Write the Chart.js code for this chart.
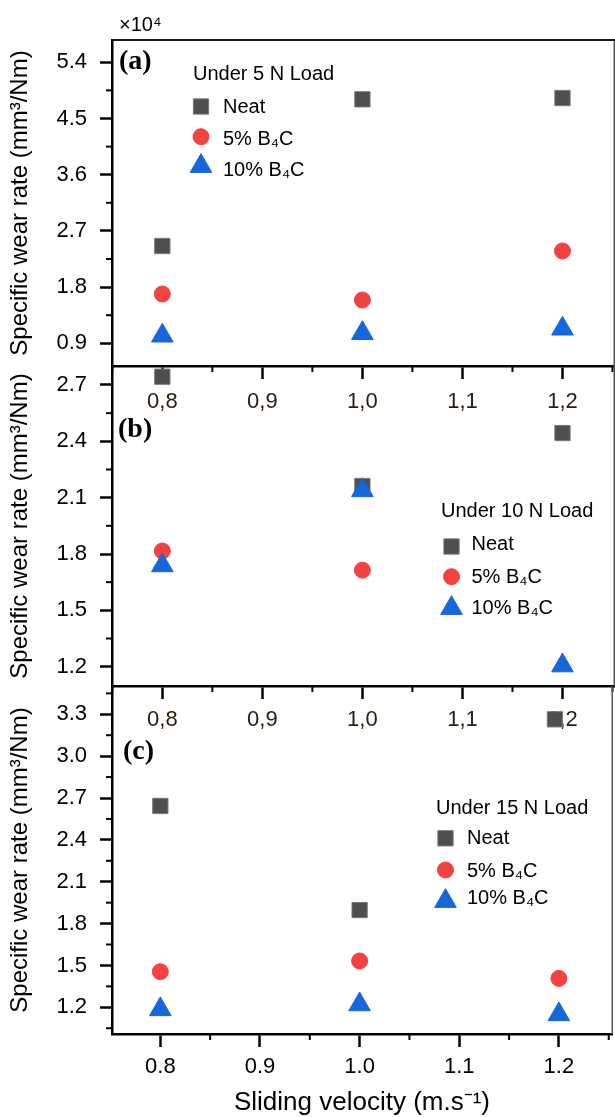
<!DOCTYPE html>
<html><head><meta charset="utf-8">
<script src="https://cdn.jsdelivr.net/npm/chart.js@4.4.1/dist/chart.umd.min.js"></script>
<style>
html,body{margin:0;padding:0;background:#fff;}
#wrap{position:relative;width:615px;height:1117px;overflow:hidden;background:#fff;}
#wrap canvas{position:absolute;left:0;top:0;}
</style></head><body>
<div id="wrap">
<canvas id="cA" width="615" height="1117"></canvas>
<canvas id="cB" width="615" height="1117"></canvas>
<canvas id="cC" width="615" height="1117"></canvas>
</div>
<script>
// ---------- data ----------
const velocities = [0.8, 1.0, 1.2];
const velocitiesNeat15N = [0.8, 1.0, 1.196];
const seriesNames = ['Neat', '5% B\u2084C', '10% B\u2084C'];
const loadTitles = ['Under 5 N Load', 'Under 10 N Load', 'Under 15 N Load'];
const panelLetters = ['(a)', '(b)', '(c)'];

// 5 N load (values x10^4)
const neat5N = [2.458, 4.807, 4.828];
const b4c5pct5N = [1.689, 1.593, 2.378];
const b4c10pct5N = [1.021, 1.061, 1.133];
// 10 N load
const neat10N = [2.744, 2.162, 2.444];
const b4c5pct10N = [1.816, 1.714, null];
const b4c10pct10N = [1.739, 2.139, 1.206];
// 15 N load
const neat15N = [2.643, 1.897, 3.264];
const b4c5pct15N = [1.455, 1.532, 1.407];
const b4c10pct15N = [1.185, 1.220, 1.149];

// tick labels
const xTicks = [0.8, 0.9, 1.0, 1.1, 1.2];
const yTicks5N = [0.9, 1.8, 2.7, 3.6, 4.5, 5.4];
const yTicks10N = [1.2, 1.5, 1.8, 2.1, 2.4, 2.7];
const yTicks15N = [1.2, 1.5, 1.8, 2.1, 2.4, 2.7, 3.0, 3.3];
const yAxisTitle = 'Specific wear rate (mm\u00B3/Nm)';
const xAxisTitle = 'Sliding velocity (m.s\u207B\u00B9)';
const exponentLabel = '\u00D710\u2074';

// ---------- styling ----------
const SANS = 'Arial, "Liberation Sans", Helvetica, sans-serif';
const SERIF = '"Liberation Serif", "Times New Roman", Times, serif';
const STY = [
  {style: 'rect', r: 10.8, fill: '#4e4e4e', stroke: '#777777', order: 3},
  {style: 'circle', r: 8.0, fill: '#f24242', stroke: '#f24242', order: 2},
  {style: 'triangle', r: 12.5, fill: '#1667db', stroke: '#1667db', order: 1}
];
Chart.defaults.font.family = SANS;
Chart.defaults.color = '#000';

function pts(xs, ys) {
  const out = [];
  xs.forEach((x, i) => { if (ys[i] !== null && ys[i] !== undefined) out.push({x: x, y: ys[i]}); });
  return out;
}

function minorValues(ticks, min, max) {
  const step = ticks[1] - ticks[0];
  const out = [];
  for (let i = -1; i < ticks.length; i++) {
    const v = ticks[0] + step * (i + 0.5);
    if (v >= min - 1e-9 && v <= max + 1e-9) out.push(v);
  }
  return out;
}

function drawMarker(ctx, s, x, cy) {
  ctx.fillStyle = s.fill; ctx.strokeStyle = s.stroke; ctx.lineWidth = 1;
  ctx.beginPath();
  if (s.style === 'rect') {
    const h = s.r * Math.SQRT1_2;
    ctx.rect(x - h, cy - h, 2 * h, 2 * h);
  } else if (s.style === 'circle') {
    ctx.arc(x, cy, s.r, 0, Math.PI * 2);
  } else {
    const c = cy + s.r / 4; // circumcenter so that bbox is centred on cy
    ctx.moveTo(x, c - s.r);
    ctx.lineTo(x + s.r * Math.sin(2 * Math.PI / 3), c + s.r / 2);
    ctx.lineTo(x - s.r * Math.sin(2 * Math.PI / 3), c + s.r / 2);
    ctx.closePath();
  }
  ctx.fill(); ctx.stroke();
}

const decorPlugin = {
  id: 'panelDecor',
  afterDraw(chart, args, o) {
    const ctx = chart.ctx, ca = chart.chartArea;
    const xs = chart.scales.x, ys = chart.scales.y;
    ctx.save();
    // right frame line
    ctx.strokeStyle = '#555'; ctx.lineWidth = 1.5;
    ctx.beginPath(); ctx.moveTo(ca.right + 0.25, ca.top); ctx.lineTo(ca.right + 0.25, ca.bottom); ctx.stroke();
    if (o.topLine) {
      ctx.strokeStyle = '#1a1a1a'; ctx.lineWidth = 2;
      ctx.beginPath(); ctx.moveTo(ca.left, ca.top); ctx.lineTo(ca.right + 1, ca.top); ctx.stroke();
    }
    // minor ticks
    ctx.strokeStyle = '#000'; ctx.lineWidth = 2;
    minorValues(o.yTicks, ys.min, ys.max).forEach(v => {
      const p = ys.getPixelForValue(v);
      ctx.beginPath(); ctx.moveTo(ca.left - 6, p); ctx.lineTo(ca.left, p); ctx.stroke();
    });
    minorValues(xTicks, xs.min, xs.max).forEach(v => {
      const p = xs.getPixelForValue(v);
      ctx.beginPath(); ctx.moveTo(p, ca.bottom); ctx.lineTo(p, ca.bottom + 6); ctx.stroke();
    });
    // panel letter
    ctx.fillStyle = '#000';
    ctx.font = 'bold 28px ' + SERIF;
    ctx.textBaseline = 'middle'; ctx.textAlign = 'left';
    ctx.fillText(o.letter, o.letterX, o.letterY);
    // exponent
    if (o.exponent) {
      ctx.font = '20px ' + SANS;
      ctx.fillText(o.exponent, o.expX, o.expY);
    }
    // legend
    const L = o.legend;
    ctx.font = '20px ' + SANS;
    ctx.fillStyle = '#000';
    ctx.fillText(o.title, L.titleX, L.titleY);
    chart.data.datasets.forEach((ds, i) => {
      const s = STY[i];
      drawMarker(ctx, s, L.markerX, L.rows[i][0]);
      ctx.fillStyle = '#000';
      ctx.font = '20px ' + SANS;
      ctx.fillText(ds.label, L.textX, L.rows[i][1]);
    });
    ctx.restore();
  }
};

function makePanel(id, cfg) {
  const datasets = cfg.series.map((ys, i) => ({
    label: seriesNames[i],
    data: pts(i === 0 && cfg.xsNeat ? cfg.xsNeat : velocities, ys),
    pointStyle: STY[i].style,
    pointRadius: STY[i].r,
    pointHoverRadius: STY[i].r,
    backgroundColor: STY[i].fill,
    borderColor: STY[i].stroke,
    borderWidth: 1,
    showLine: false,
    order: STY[i].order,
    clip: false
  }));
  return new Chart(document.getElementById(id), {
    type: 'scatter',
    data: {datasets},
    options: {
      responsive: false, animation: false, devicePixelRatio: 1, events: [],
      layout: {autoPadding: false, padding: {top: cfg.padTop, bottom: cfg.padBottom, left: 0, right: cfg.padRight}},
      plugins: {
        legend: {display: false}, tooltip: {enabled: false},
        panelDecor: cfg.decor
      },
      scales: {
        x: {
          type: 'linear', min: cfg.xMin, max: cfg.xMax,
          afterBuildTicks: s => { s.ticks = xTicks.map(v => ({value: v})); },
          afterFit: s => { s.height = cfg.xHeight; s.paddingLeft = 0; s.paddingRight = 0; },
          ticks: {
            padding: cfg.xLabelPad, color: cfg.xLabelColor, maxRotation: 0, autoSkip: false,
            font: {size: 22, family: SANS},
            callback: v => cfg.comma ? v.toFixed(1).replace('.', ',') : v.toFixed(1)
          },
          grid: {drawOnChartArea: false, drawTicks: true, tickLength: 13, tickWidth: 2.5, tickColor: '#000'},
          border: {display: true, width: 2.5, color: '#000'},
          title: cfg.xTitle ? {display: true, text: cfg.xTitle, color: '#000',
            font: {size: 26, family: SANS, lineHeight: 1.1}, padding: {top: 0, bottom: 0}} : {display: false}
        },
        y: {
          type: 'linear', min: cfg.yMin, max: cfg.yMax,
          afterBuildTicks: s => { s.ticks = cfg.yTicks.map(v => ({value: v})); },
          afterFit: s => { s.width = 112; s.paddingTop = 0; s.paddingBottom = 0; },
          ticks: {padding: 13, color: '#000', font: {size: 22, family: SANS}, callback: v => v.toFixed(1)},
          grid: {drawOnChartArea: false, drawTicks: true, tickLength: 12, tickWidth: 2.5, tickColor: '#000'},
          border: {display: true, width: 2.5, color: '#000'},
          title: {display: true, text: yAxisTitle, color: '#000',
            font: {size: 24, family: SANS, lineHeight: 1.2}, padding: {top: 6, bottom: 0}}
        }
      }
    },
    plugins: [decorPlugin]
  });
}

makePanel('cA', {
  series: [neat5N, b4c5pct5N, b4c10pct5N],
  padTop: 40, padBottom: 1117 - 366 - 60, padRight: 1, xHeight: 60,
  xMin: 0.7497, xMax: 1.2515, yMin: 0.5365, yMax: 5.757, yTicks: yTicks5N,
  xLabelPad: 9.5, xLabelColor: '#2b1d0e', comma: true,
  decor: {
    topLine: true, yTicks: yTicks5N, letter: panelLetters[0], letterX: 119, letterY: 62,
    exponent: exponentLabel, expX: 119, expY: 25, title: loadTitles[0],
    legend: {titleX: 193, titleY: 74, markerX: 201, textX: 223,
      rows: [[106.5, 107], [136.7, 139], [163, 170.5]]}
  }
});
makePanel('cB', {
  series: [neat10N, b4c5pct10N, b4c10pct10N],
  padTop: 366, padBottom: 1117 - 686 - 60, padRight: 1, xHeight: 60,
  xMin: 0.7497, xMax: 1.2515, yMin: 1.0972, yMax: 2.801, yTicks: yTicks10N,
  xLabelPad: 8, xLabelColor: '#2b1d0e', comma: true,
  decor: {
    topLine: false, yTicks: yTicks10N, letter: panelLetters[1], letterX: 118, letterY: 430,
    title: loadTitles[1],
    legend: {titleX: 441, titleY: 511, markerX: 451.5, textX: 471.5,
      rows: [[546.5, 544.5], [576.7, 577], [605, 608]]}
  }
});
makePanel('cC', {
  series: [neat15N, b4c5pct15N, b4c10pct15N], xsNeat: velocitiesNeat15N,
  padTop: 686, padBottom: 0, padRight: 3, xHeight: 1117 - 1034,
  xMin: 0.7515, xMax: 1.2533, yMin: 1.0086, yMax: 3.5028, yTicks: yTicks15N,
  xLabelPad: 6.5, xLabelColor: '#000', comma: false, xTitle: xAxisTitle,
  decor: {
    topLine: false, yTicks: yTicks15N, letter: panelLetters[2], letterX: 123, letterY: 752,
    title: loadTitles[2],
    legend: {titleX: 436, titleY: 808, markerX: 445.5, textX: 467,
      rows: [[838.3, 838.5], [870, 871], [898, 898.5]]}
  }
});
</script>
</body></html>
